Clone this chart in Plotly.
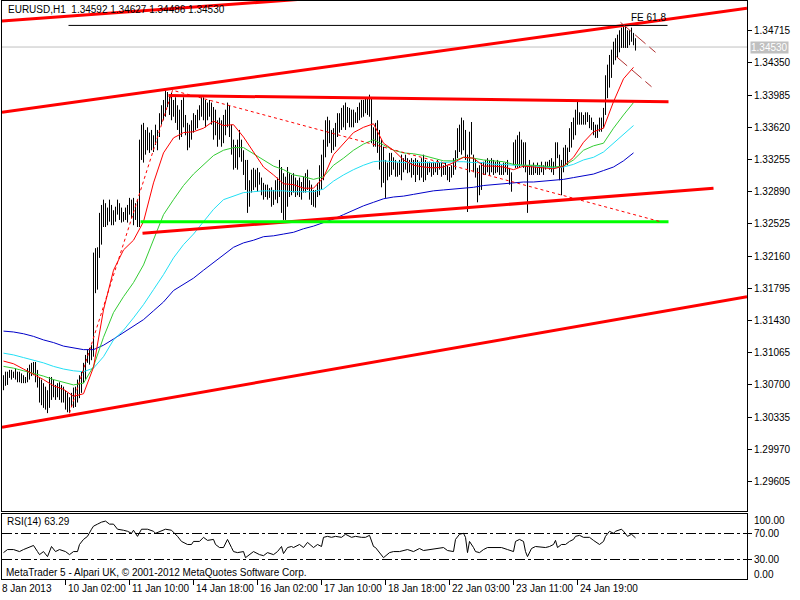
import plotly.graph_objects as go

# ---------------- data ----------------
highs = [
    1.3081, 1.3085, 1.3085, 1.3087, 1.3087, 1.3085, 1.3089, 1.3085, 1.3085, 1.3083,
    1.3081, 1.3079, 1.3089, 1.3093, 1.3095, 1.3096, 1.3096, 1.3087, 1.3079, 1.3076,
    1.3072, 1.3068, 1.3064, 1.3079, 1.3079, 1.3076, 1.3070, 1.3072, 1.3073, 1.3070,
    1.3068, 1.3064, 1.3061, 1.3056, 1.3061, 1.3067, 1.3068, 1.3076, 1.3081, 1.3085,
    1.3095, 1.3104, 1.3110, 1.3112, 1.3115, 1.3220, 1.3225, 1.3226, 1.3265, 1.3274,
    1.3280, 1.3276, 1.3271, 1.3280, 1.3274, 1.3268, 1.3272, 1.3280, 1.3276, 1.3271,
    1.3266, 1.3271, 1.3274, 1.3282, 1.3280, 1.3282, 1.3276, 1.3280, 1.3348, 1.3365,
    1.3367, 1.3359, 1.3362, 1.3356, 1.3359, 1.3353, 1.3365, 1.3359, 1.3378, 1.3387,
    1.3393, 1.3404, 1.3402, 1.3399, 1.3401, 1.3393, 1.3396, 1.3387, 1.3382, 1.3393,
    1.3396, 1.3376, 1.3367, 1.3365, 1.3370, 1.3378, 1.3376, 1.3382, 1.3387, 1.3396,
    1.3396, 1.3393, 1.3390, 1.3393, 1.3390, 1.3385, 1.3382, 1.3370, 1.3373, 1.3370,
    1.3376, 1.3382, 1.3390, 1.3387, 1.3365, 1.3348, 1.3342, 1.3348, 1.3359, 1.3348,
    1.3336, 1.3325, 1.3325, 1.3302, 1.3314, 1.3316, 1.3314, 1.3316, 1.3311, 1.3305,
    1.3299, 1.3297, 1.3297, 1.3293, 1.3294, 1.3291, 1.3302, 1.3305, 1.3325, 1.3317,
    1.3310, 1.3306, 1.3317, 1.3310, 1.3308, 1.3310, 1.3305, 1.3302, 1.3305, 1.3300,
    1.3306, 1.3310, 1.3314, 1.3302, 1.3297, 1.3291, 1.3291, 1.3299, 1.3319, 1.3331,
    1.3348, 1.3370, 1.3374, 1.3370, 1.3359, 1.3361, 1.3367, 1.3378, 1.3378, 1.3384,
    1.3387, 1.3390, 1.3385, 1.3384, 1.3382, 1.3382, 1.3379, 1.3385, 1.3390, 1.3393,
    1.3393, 1.3395, 1.3396, 1.3399, 1.3396, 1.3362, 1.3367, 1.3370, 1.3359, 1.3348,
    1.3340, 1.3325, 1.3322, 1.3333, 1.3333, 1.3328, 1.3325, 1.3322, 1.3325, 1.3331,
    1.3327, 1.3331, 1.3327, 1.3325, 1.3327, 1.3325, 1.3327, 1.3325, 1.3323, 1.3327,
    1.3331, 1.3325, 1.3323, 1.3323, 1.3322, 1.3323, 1.3322, 1.3325, 1.3322, 1.3323,
    1.3319, 1.3322, 1.3319, 1.3317, 1.3319, 1.3327, 1.3336, 1.3361, 1.3365, 1.3373,
    1.3370, 1.3359, 1.3331, 1.3357, 1.3368, 1.3331, 1.3327, 1.3316, 1.3319, 1.3322,
    1.3323, 1.3325, 1.3327, 1.3325, 1.3327, 1.3325, 1.3323, 1.3325, 1.3323, 1.3319,
    1.3322, 1.3322, 1.3325, 1.3316, 1.3311, 1.3345, 1.3348, 1.3353, 1.3357, 1.3348,
    1.3345, 1.3345, 1.3319, 1.3325, 1.3319, 1.3322, 1.3319, 1.3322, 1.3319, 1.3323,
    1.3319, 1.3323, 1.3323, 1.3325, 1.3327, 1.3323, 1.3345, 1.3345, 1.3331, 1.3325,
    1.3339, 1.3342, 1.3339, 1.3361, 1.3368, 1.3373, 1.3382, 1.3393, 1.3379, 1.3379,
    1.3376, 1.3379, 1.3379, 1.3376, 1.3373, 1.3368, 1.3365, 1.3365, 1.3373, 1.3373,
    1.3384, 1.3421, 1.3433, 1.3444, 1.3450, 1.3459, 1.3463, 1.3467, 1.3472, 1.3475,
    1.3478, 1.3477, 1.3472, 1.3472, 1.3475, 1.3469, 1.3463,
]
lows = [
    1.3064, 1.3069, 1.3070, 1.3078, 1.3076, 1.3078, 1.3076, 1.3073, 1.3073, 1.3072,
    1.3072, 1.3072, 1.3073, 1.3076, 1.3080, 1.3081, 1.3073, 1.3067, 1.3050, 1.3047,
    1.3044, 1.3042, 1.3038, 1.3044, 1.3053, 1.3056, 1.3053, 1.3056, 1.3053, 1.3050,
    1.3050, 1.3042, 1.3039, 1.3038, 1.3045, 1.3044, 1.3045, 1.3050, 1.3055, 1.3061,
    1.3072, 1.3076, 1.3095, 1.3093, 1.3098, 1.3102, 1.3174, 1.3178, 1.3214, 1.3229,
    1.3249, 1.3249, 1.3251, 1.3255, 1.3251, 1.3251, 1.3255, 1.3263, 1.3257, 1.3254,
    1.3255, 1.3257, 1.3254, 1.3263, 1.3259, 1.3251, 1.3257, 1.3249, 1.3249, 1.3325,
    1.3322, 1.3331, 1.3336, 1.3333, 1.3336, 1.3334, 1.3342, 1.3336, 1.3351, 1.3365,
    1.3370, 1.3374, 1.3385, 1.3376, 1.3370, 1.3374, 1.3367, 1.3359, 1.3348, 1.3351,
    1.3362, 1.3353, 1.3336, 1.3339, 1.3348, 1.3356, 1.3359, 1.3361, 1.3370, 1.3374,
    1.3370, 1.3362, 1.3370, 1.3374, 1.3365, 1.3348, 1.3353, 1.3340, 1.3348, 1.3340,
    1.3344, 1.3353, 1.3362, 1.3351, 1.3331, 1.3314, 1.3316, 1.3314, 1.3328, 1.3323,
    1.3308, 1.3291, 1.3265, 1.3272, 1.3288, 1.3291, 1.3294, 1.3289, 1.3297, 1.3285,
    1.3280, 1.3283, 1.3280, 1.3282, 1.3272, 1.3274, 1.3280, 1.3276, 1.3283, 1.3265,
    1.3257, 1.3257, 1.3272, 1.3283, 1.3285, 1.3288, 1.3283, 1.3285, 1.3283, 1.3280,
    1.3288, 1.3288, 1.3291, 1.3280, 1.3274, 1.3272, 1.3271, 1.3283, 1.3285, 1.3291,
    1.3302, 1.3328, 1.3340, 1.3344, 1.3333, 1.3336, 1.3340, 1.3351, 1.3356, 1.3359,
    1.3362, 1.3359, 1.3367, 1.3362, 1.3362, 1.3362, 1.3367, 1.3367, 1.3370, 1.3373,
    1.3374, 1.3378, 1.3376, 1.3374, 1.3344, 1.3340, 1.3340, 1.3333, 1.3314, 1.3294,
    1.3299, 1.3282, 1.3302, 1.3306, 1.3308, 1.3314, 1.3306, 1.3306, 1.3308, 1.3302,
    1.3311, 1.3314, 1.3310, 1.3311, 1.3305, 1.3308, 1.3300, 1.3308, 1.3302, 1.3305,
    1.3300, 1.3302, 1.3308, 1.3311, 1.3306, 1.3308, 1.3311, 1.3308, 1.3314, 1.3306,
    1.3308, 1.3308, 1.3302, 1.3300, 1.3305, 1.3308, 1.3314, 1.3327, 1.3334, 1.3331,
    1.3336, 1.3325, 1.3266, 1.3311, 1.3331, 1.3311, 1.3305, 1.3277, 1.3285, 1.3291,
    1.3308, 1.3308, 1.3311, 1.3308, 1.3311, 1.3308, 1.3310, 1.3311, 1.3308, 1.3308,
    1.3308, 1.3311, 1.3308, 1.3297, 1.3289, 1.3319, 1.3316, 1.3316, 1.3316, 1.3319,
    1.3316, 1.3311, 1.3265, 1.3308, 1.3308, 1.3308, 1.3310, 1.3308, 1.3308, 1.3311,
    1.3308, 1.3314, 1.3316, 1.3314, 1.3311, 1.3308, 1.3316, 1.3327, 1.3302, 1.3285,
    1.3311, 1.3319, 1.3319, 1.3334, 1.3339, 1.3348, 1.3353, 1.3365, 1.3365, 1.3365,
    1.3365, 1.3365, 1.3368, 1.3361, 1.3359, 1.3353, 1.3350, 1.3350, 1.3357, 1.3357,
    1.3361, 1.3376, 1.3395, 1.3407, 1.3418, 1.3433, 1.3438, 1.3441, 1.3447, 1.3452,
    1.3452, 1.3452, 1.3452, 1.3455, 1.3459, 1.3455, 1.3449,
]

# moving averages sampled every 5 bars
ma_idx = [0, 5, 10, 15, 20, 25, 30, 35, 40, 45, 50, 55, 60, 65, 70, 75, 80, 85, 90, 95,
          100, 105, 110, 115, 120, 125, 130, 135, 140, 145, 150, 155, 160, 165, 170, 175,
          180, 185, 190, 195, 200, 205, 210, 215, 220, 225, 230, 235, 240, 245, 250, 255,
          260, 265, 270, 275, 280, 285, 290, 295, 300, 305, 310, 315]
ma_red = [1.3097, 1.3094, 1.3088, 1.3082, 1.3076, 1.3069, 1.3065, 1.3057, 1.3060, 1.3090,
          1.3155, 1.3200, 1.3223, 1.3234, 1.3255, 1.3299, 1.3333, 1.3350, 1.3356, 1.3357,
          1.3361, 1.3369, 1.3364, 1.3365, 1.3351, 1.3334, 1.3317, 1.3308, 1.3298, 1.3297,
          1.3293, 1.3293, 1.3305, 1.3331, 1.3344, 1.3356, 1.3362, 1.3366, 1.3344, 1.3336,
          1.3325, 1.3319, 1.3317, 1.3316, 1.3317, 1.3322, 1.3328, 1.3327, 1.3318, 1.3318,
          1.3317, 1.3314, 1.3318, 1.3317, 1.3316, 1.3315, 1.3318, 1.3328, 1.3345, 1.3357,
          1.3361, 1.3391, 1.3417, 1.3430]
ma_green = [1.3091, 1.3089, 1.3086, 1.3083, 1.3080, 1.3076, 1.3073, 1.3070, 1.3072, 1.3091,
            1.3124, 1.3152, 1.3170, 1.3186, 1.3206, 1.3234, 1.3263, 1.3280, 1.3296, 1.3309,
            1.3320, 1.3330, 1.3336, 1.3339, 1.3339, 1.3332, 1.3325, 1.3318, 1.3314, 1.3308,
            1.3306, 1.3303, 1.3306, 1.3319, 1.3327, 1.3336, 1.3343, 1.3348, 1.3342, 1.3336,
            1.3333, 1.3332, 1.3330, 1.3327, 1.3324, 1.3324, 1.3328, 1.3327, 1.3325, 1.3324,
            1.3323, 1.3320, 1.3319, 1.3319, 1.3318, 1.3317, 1.3318, 1.3325, 1.3336, 1.3341,
            1.3344, 1.3361, 1.3376, 1.3390]
ma_cyan = [1.3106, 1.3104, 1.3101, 1.3098, 1.3095, 1.3091, 1.3088, 1.3086, 1.3085, 1.3089,
           1.3102, 1.3121, 1.3132, 1.3146, 1.3161, 1.3178, 1.3195, 1.3214, 1.3229, 1.3241,
           1.3255, 1.3269, 1.3280, 1.3284, 1.3288, 1.3289, 1.3290, 1.3290, 1.3290, 1.3289,
           1.3289, 1.3289, 1.3292, 1.3301, 1.3308, 1.3314, 1.3319, 1.3323, 1.3324, 1.3323,
           1.3322, 1.3322, 1.3322, 1.3322, 1.3322, 1.3323, 1.3323, 1.3322, 1.3322, 1.3320,
           1.3320, 1.3319, 1.3319, 1.3318, 1.3317, 1.3316, 1.3317, 1.3320, 1.3325, 1.3328,
           1.3334, 1.3344, 1.3353, 1.3364]
ma_blue = [1.3131, 1.3130, 1.3128, 1.3125, 1.3121, 1.3118, 1.3114, 1.3112, 1.3110, 1.3110,
           1.3115, 1.3122, 1.3129, 1.3136, 1.3144, 1.3154, 1.3164, 1.3177, 1.3184, 1.3191,
           1.3200, 1.3209, 1.3218, 1.3226, 1.3231, 1.3234, 1.3238, 1.3239, 1.3241, 1.3243,
           1.3247, 1.3250, 1.3254, 1.3258, 1.3263, 1.3268, 1.3273, 1.3277, 1.3281, 1.3283,
           1.3284, 1.3286, 1.3288, 1.3290, 1.3291, 1.3292, 1.3293, 1.3294, 1.3296, 1.3297,
           1.3298, 1.3299, 1.3300, 1.3300, 1.3301, 1.3302, 1.3303, 1.3305, 1.3307, 1.3309,
           1.3313, 1.3317, 1.3324, 1.3333]

rsi_idx = [0, 2, 5, 8, 10, 13, 15, 17, 18, 20,
           22, 24, 26, 28, 31, 33, 35, 37, 38, 40,
           42, 44, 45, 47, 49, 51, 53, 55, 57, 60,
           62, 64, 65, 67, 69, 72, 75, 76, 79, 81,
           84, 85, 87, 89, 90, 92, 94, 95, 98, 100,
           102, 105, 106, 108, 110, 112, 114, 115, 117, 120,
           121, 123, 125, 128, 130, 132, 135, 137, 139, 140,
           142, 144, 145, 148, 150, 152, 155, 157, 159, 160,
           162, 164, 166, 169, 171, 174, 176, 179, 181, 183,
           185, 186, 188, 190, 193, 195, 198, 202, 205, 208,
           210, 214, 217, 220, 222, 225, 226, 228, 230, 231,
           232, 233, 235, 236, 238, 240, 242, 245, 249, 252,
           255, 256, 258, 260, 261, 262, 264, 266, 269, 271,
           273, 275, 276, 277, 279, 281, 283, 285, 286, 288,
           290, 293, 295, 298, 300, 301, 303, 305, 306, 309,
           310, 312, 314, 315, 316]
rsi_val = [40.6, 45.3, 45.3, 42.2, 45.3, 48.4, 51.6, 42.2, 37.5, 42.2,
           34.4, 50.0, 42.2, 45.3, 42.2, 37.5, 42.2, 42.2, 53.1, 60.9,
           65.6, 76.6, 81.3, 84.4, 87.5, 89.1, 84.4, 84.4, 76.6, 75.0,
           73.4, 70.3, 75.0, 65.6, 76.6, 76.6, 73.4, 70.3, 73.4, 76.6,
           75.0, 71.9, 65.6, 57.8, 56.3, 53.1, 53.1, 57.8, 57.8, 64.1,
           59.4, 60.9, 53.1, 48.4, 48.4, 60.9, 48.4, 42.2, 40.6, 42.2,
           32.8, 37.5, 42.2, 37.5, 35.9, 40.6, 37.5, 42.2, 50.0, 39.1,
           48.4, 50.0, 48.4, 53.1, 48.4, 56.3, 48.4, 53.1, 50.0, 64.1,
           65.6, 64.1, 65.6, 64.1, 68.8, 64.1, 65.6, 64.1, 64.1, 67.2,
           50.0, 48.4, 40.6, 32.8, 40.6, 42.2, 42.2, 45.3, 42.2, 46.9,
           43.8, 45.3, 46.9, 48.4, 43.8, 42.2, 60.9, 68.8, 70.3, 64.1,
           40.6, 57.8, 48.4, 42.2, 40.6, 45.3, 48.4, 48.4, 48.4, 45.3,
           42.2, 57.8, 60.9, 57.8, 42.2, 34.4, 46.9, 50.0, 48.4, 48.4,
           50.0, 53.1, 59.4, 48.4, 53.1, 53.1, 57.8, 60.9, 65.6, 67.2,
           64.1, 64.1, 59.4, 53.1, 57.8, 65.6, 73.4, 70.3, 73.4, 76.6,
           73.4, 65.6, 68.8, 65.6, 63.3]

price_ticks = [1.29605, 1.29970, 1.30335, 1.30700, 1.31065, 1.31430, 1.31795, 1.32160,
               1.32525, 1.32890, 1.33255, 1.33620, 1.33985, 1.34350, 1.34715]
price_tick_labels = ["1.29605", "1.29970", "1.30335", "1.30700", "1.31065", "1.31430",
                     "1.31795", "1.32160", "1.32525", "1.32890", "1.33255", "1.33620",
                     "1.33985", "1.34350", "1.34715"]
time_tick_idx = [31, 63, 95, 127, 159, 191, 223, 255, 287]
time_tick_labels = ["10 Jan 02:00", "11 Jan 10:00", "14 Jan 18:00", "16 Jan 02:00",
                    "17 Jan 10:00", "18 Jan 18:00", "22 Jan 03:00", "23 Jan 11:00",
                    "24 Jan 19:00"]
rsi_levels = [70, 30]
rsi_level_labels = ["70.00", "30.00"]
bid_price = 1.34530

# drawn objects: (bar index, price) anchor points
chan_upper_t, chan_upper_p = [-0.75, 371.75], [1.3379, 1.3497]
chan_top_t, chan_top_p = [-0.75, 160], [1.34825, 1.3509]
chan_lower_t, chan_lower_p = [-0.75, 371.75], [1.3022, 1.3170]
support_t, support_p = [69.5, 355], [1.3242, 1.3293]
resist_t, resist_p = [82.5, 332.5], [1.3398, 1.3391]
fe0_t, fe0_p = [68.5, 332.5], [1.3255, 1.3255]
fe618_t, fe618_p = [32.5, 332], [1.34775, 1.34775]
abc_t, abc_p = [33, 84.5, 328.5], [1.3038, 1.3404, 1.3255]
dr1_t, dr1_p = [308.5, 326], [1.3481, 1.3447]
dr2_t, dr2_p = [306.5, 324], [1.3442, 1.3408]

# ---------------- figure ----------------
W, H = 800, 600
FONT = "Liberation Sans"
X_DOM = [2 / W, 747 / W]
X_RANGE = [-0.75, 371.75]
Y_MAIN_DOM = [1 - 511 / H, 1 - 1 / H]
Y_MAIN_RANGE = [1.292708, 1.350517]
Y_RSI_DOM = [1 - 579 / H, 1 - 514 / H]

fig = go.Figure()


def line(x, y, color, width=1, dash=None, xa="x", ya="y"):
    fig.add_trace(go.Scatter(x=x, y=y, mode="lines", xaxis=xa, yaxis=ya,
                             line=dict(color=color, width=width, dash=dash),
                             hoverinfo="skip", showlegend=False))


# bid line
line(list(X_RANGE), [bid_price, bid_price], "#c0c0c0", 1)

# price bars
bx, by = [], []
for i, (h, l) in enumerate(zip(highs, lows)):
    bx += [i, i, None]
    by += [l, h, None]
line(bx, by, "black", 1)

# moving averages
line(ma_idx, ma_blue, "#0000c8", 1)
line(ma_idx, ma_cyan, "#22e0f5", 1)
line(ma_idx, ma_green, "#33cc33", 1)
line(ma_idx, ma_red, "#ff0000", 1)

# trend lines
for t, p in [(chan_upper_t, chan_upper_p), (chan_top_t, chan_top_p),
             (chan_lower_t, chan_lower_p), (support_t, support_p),
             (resist_t, resist_p)]:
    line(t, p, "#ff0000", 3)
line(fe0_t, fe0_p, "#00ff00", 3)
line(fe618_t, fe618_p, "black", 1)
line(abc_t, abc_p, "#ff0000", 1, "3px,3px")
line(dr1_t, dr1_p, "#b03030", 1, "14px,5px")
line(dr2_t, dr2_p, "#b03030", 1, "14px,5px")

# RSI
line(rsi_idx, rsi_val, "black", 1, xa="x2", ya="y2")
for lv in rsi_levels:
    line(list(X_RANGE), [lv, lv], "black", 1, "10px,3px,3px,3px", xa="x2", ya="y2")

axis_common = dict(showline=True, linecolor="black", linewidth=1, mirror=True,
                   showgrid=False, zeroline=False)

fig.update_layout(
    width=W, height=H,
    margin=dict(l=0, r=0, t=0, b=0),
    paper_bgcolor="white", plot_bgcolor="white",
    showlegend=False,
    font=dict(family=FONT, size=10, color="black"),
    xaxis=dict(domain=X_DOM, range=X_RANGE, anchor="y", showticklabels=False,
               ticks="", **axis_common),
    yaxis=dict(domain=Y_MAIN_DOM, range=Y_MAIN_RANGE, side="right", anchor="x",
               tickvals=price_ticks, ticks="outside", ticklen=4, tickcolor="black",
               showticklabels=False, **axis_common),
    xaxis2=dict(domain=X_DOM, range=X_RANGE, anchor="y2", matches="x",
                tickvals=time_tick_idx, ticks="outside", ticklen=5, tickcolor="black",
                showticklabels=False, **axis_common),
    yaxis2=dict(domain=Y_RSI_DOM, range=[0, 100], side="right", anchor="x2",
                tickvals=rsi_levels, ticks="outside", ticklen=4, tickcolor="black",
                showticklabels=False, **axis_common),
)

ann = []


def px_y(py):
    return 1 - py / H


LBL_X = 752 / W
for v, lab in zip(price_ticks, price_tick_labels):
    ann.append(dict(text=lab, xref="paper", yref="y", x=LBL_X, y=v, xanchor="left",
                    yanchor="middle", showarrow=False, font=dict(size=10)))
for v, lab in zip(rsi_levels, rsi_level_labels):
    ann.append(dict(text=lab, xref="paper", yref="y2", x=LBL_X, y=v, xanchor="left",
                    yanchor="middle", showarrow=False, font=dict(size=10)))
ann.append(dict(text="100.00", xref="paper", yref="paper", x=LBL_X, y=px_y(520),
                xanchor="left", yanchor="middle", showarrow=False, font=dict(size=10)))
ann.append(dict(text="0.00", xref="paper", yref="paper", x=LBL_X, y=px_y(574),
                xanchor="left", yanchor="middle", showarrow=False, font=dict(size=10)))

ann.append(dict(text="EURUSD,H1\u00a0 1.34592 1.34627 1.34486 1.34530", xref="paper",
                yref="paper", x=6 / W, y=px_y(9), xanchor="left", yanchor="middle",
                showarrow=False, font=dict(size=10)))
ann.append(dict(text="FE 61.8", xref="x", yref="y", x=fe618_t[1], y=fe618_p[1],
                xanchor="right", yanchor="bottom", showarrow=False, font=dict(size=10)))
ann.append(dict(text="1.34530", xref="paper", yref="y", x=750 / W, y=bid_price,
                xanchor="left", yanchor="middle", showarrow=False, bgcolor="#c0c0c0",
                borderpad=0, font=dict(size=10, color="white")))
ann.append(dict(text="RSI(14) 63.29", xref="paper", yref="paper", x=5 / W, y=px_y(521),
                xanchor="left", yanchor="middle", showarrow=False, font=dict(size=10)))
ann.append(dict(text="MetaTrader 5 - Alpari UK, © 2001-2012 MetaQuotes Software Corp.",
                xref="paper", yref="paper", x=4 / W, y=px_y(572), xanchor="left",
                yanchor="middle", showarrow=False, font=dict(size=10)))
ann.append(dict(text="8 Jan 2013", xref="paper", yref="paper", x=0, y=px_y(588),
                xanchor="left", yanchor="middle", showarrow=False, font=dict(size=10)))
for t, lab in zip(time_tick_idx, time_tick_labels):
    ann.append(dict(text=lab, xref="x2", yref="paper", x=t, y=px_y(588),
                    xanchor="left", yanchor="middle", showarrow=False,
                    font=dict(size=10)))
fig.update_layout(annotations=ann)

fig.write_html(
    "out.html",
    config={"displayModeBar": False},
    post_script="document.body.style.margin='0';document.body.style.padding='0';"
                "document.body.style.overflow='hidden';",
)
